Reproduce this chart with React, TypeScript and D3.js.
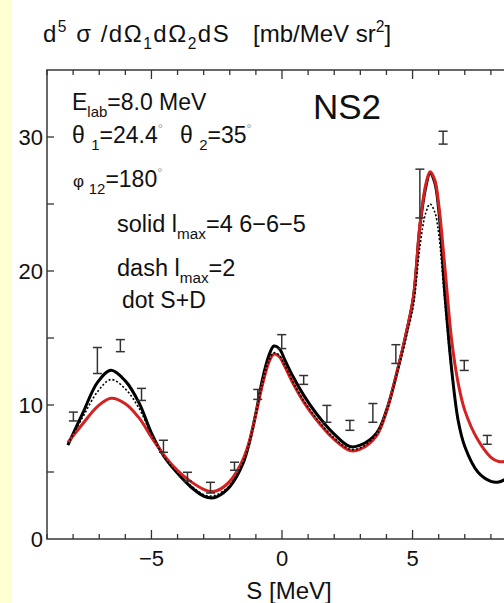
import { useEffect, useRef } from "react";
import * as d3 from "d3";

// S grid shared by the three calculated curves [MeV]
const curveS = [
  -8.2, -7.63, -7.06, -6.55, -6.0, -5.46, -5.0, -4.5, -4.0, -3.5,
  -3.0, -2.77, -2.5, -2.0, -1.5, -1.25, -1.0, -0.75, -0.5, -0.31,
  -0.1, 0.1, 0.4, 0.84, 1.32, 1.96, 2.6, 3.0, 3.62, 4.0,
  4.45, 4.75, 5.03, 5.28, 5.5, 5.67, 5.85, 6.0, 6.25, 6.5,
  6.75, 7.0, 7.5, 8.0, 8.3, 8.6, 9.0,
];

// solid, lmax=4 6-6-5 (black)
const solidCurve = [
  7.0, 9.4, 11.7, 12.6, 11.8, 10.1, 7.9, 6.1, 4.9, 3.9,
  3.2, 3.07, 3.15, 3.9, 5.6, 7.2, 9.4, 11.9, 13.7, 14.4,
  14.2, 13.4, 12.2, 10.7, 9.35, 7.9, 6.9, 7.0, 7.9, 9.6,
  12.8, 15.3, 18.0, 23.3, 26.2, 27.3, 26.6, 24.6, 18.0, 12.6,
  8.8, 6.9, 5.0, 4.3, 4.25, 4.5, 5.0,
];

// dash, lmax=2 (red)
const dashCurve = [
  7.2, 8.6, 9.9, 10.5, 10.1, 9.0, 7.6, 6.2, 5.1, 4.3,
  3.7, 3.55, 3.6, 4.3, 5.9, 7.3, 9.3, 11.5, 13.2, 13.8,
  13.6, 12.9, 11.7, 10.2, 8.9, 7.5, 6.6, 6.7, 7.7, 9.5,
  12.8, 15.3, 18.0, 23.4, 26.4, 27.4, 26.8, 25.0, 20.0, 14.8,
  11.6, 9.6, 7.4, 6.1, 5.78, 5.8, 6.0,
];

// dot, S+D (black dotted)
const dotCurve = [
  7.1, 9.1, 11.0, 11.9, 11.2, 9.7, 7.8, 6.1, 4.9, 4.0,
  3.3, 3.2, 3.3, 4.0, 5.7, 7.2, 9.3, 11.6, 13.3, 13.9,
  13.7, 13.0, 11.8, 10.3, 9.0, 7.6, 6.7, 6.8, 7.8, 9.5,
  12.7, 15.0, 17.4, 21.8, 24.3, 25.0, 24.4, 22.8, 17.4, 12.4,
  8.8, 6.9, 5.0, 4.3, 4.25, 4.5, 5.0,
];

// measured points with errors
const dataS = [
  -7.99, -7.07, -6.19, -5.38, -4.54, -3.62, -2.74, -1.82, -0.93, -0.01,
  0.83, 1.72, 2.6, 3.48, 4.36, 5.28, 6.17, 6.98, 7.86,
];
const dataSigma = [
  9.14, 13.32, 14.43, 10.79, 6.92, 4.65, 3.83, 5.43, 10.79, 14.73,
  11.87, 9.34, 8.48, 9.41, 13.8, 25.78, 29.95, 12.95, 7.4,
];
const dataErr = [
  0.33, 0.97, 0.45, 0.45, 0.45, 0.33, 0.4, 0.3, 0.37, 0.52,
  0.33, 0.63, 0.37, 0.7, 0.7, 1.82, 0.48, 0.37, 0.33,
];

const xLabels = [-5, 0, 5];
const yLabels = [0, 10, 20, 30];

const W = 504;
const H = 603;
const FONT = "'Liberation Sans', Arial, Helvetica, sans-serif";

type Part = { t: string; sub?: boolean; sup?: boolean; size?: number; fill?: string };

export default function App() {
  const svgRef = useRef<SVGSVGElement | null>(null);

  useEffect(() => {
    if (!svgRef.current) return;
    const svg = d3.select(svgRef.current);
    svg.selectAll("*").remove();

    const left = 47;
    const right = 517;
    const top = 70;
    const bottom = 539;

    const x = d3.scaleLinear().domain([-9, 9]).range([left, right]);
    const y = d3.scaleLinear().domain([0, 35]).range([bottom, top]);

    // page background
    svg.append("rect").attr("width", W).attr("height", H).attr("fill", "#fff");
    svg.append("rect").attr("width", 12).attr("height", H).attr("fill", "#ffffd2");

    svg
      .append("clipPath")
      .attr("id", "plot-clip")
      .append("rect")
      .attr("x", left)
      .attr("y", top)
      .attr("width", right - left)
      .attr("height", bottom - top);

    // rich text helper (sub/superscripts)
    const rich = (px: number, py: number, size: number, parts: Part[]) => {
      const t = svg
        .append("text")
        .attr("x", px)
        .attr("y", py)
        .attr("font-family", FONT)
        .attr("font-size", size)
        .attr("fill", "#111")
        .attr("xml:space", "preserve");
      let off = 0;
      parts.forEach((p) => {
        const target = p.sub ? 0.3 * size : p.sup ? -0.42 * size : 0;
        const fs = p.size ?? (p.sub || p.sup ? size * 0.65 : size);
        t.append("tspan")
          .attr("dy", target - off)
          .attr("font-size", fs)
          .attr("fill", p.fill ?? "#111")
          .text(p.t);
        off = target;
      });
      return t;
    };

    // curves
    const plot = svg.append("g").attr("clip-path", "url(#plot-clip)");
    const line = (vals: number[]) =>
      d3
        .line<number>()
        .x((_, i) => x(curveS[i]))
        .y((d) => y(d))
        .curve(d3.curveCatmullRom.alpha(0.5))(vals);

    plot
      .append("path")
      .attr("d", line(solidCurve))
      .attr("fill", "none")
      .attr("stroke", "#000")
      .attr("stroke-width", 3);

    plot
      .append("path")
      .attr("d", line(dashCurve))
      .attr("fill", "none")
      .attr("stroke", "#d42222")
      .attr("stroke-width", 3);

    plot
      .append("path")
      .attr("d", line(dotCurve))
      .attr("fill", "none")
      .attr("stroke", "#000")
      .attr("stroke-width", 1.6)
      .attr("stroke-dasharray", "2,2");

    // error bars
    const bars = plot
      .selectAll("g.err")
      .data(dataS.map((s, i) => ({ s, v: dataSigma[i], e: dataErr[i] })))
      .enter()
      .append("g")
      .attr("stroke", "#333")
      .attr("stroke-width", 1.5);
    bars
      .append("line")
      .attr("x1", (d) => x(d.s))
      .attr("x2", (d) => x(d.s))
      .attr("y1", (d) => y(d.v - d.e))
      .attr("y2", (d) => y(d.v + d.e));
    [-1, 1].forEach((sgn) => {
      bars
        .append("line")
        .attr("x1", (d) => x(d.s) - 4.5)
        .attr("x2", (d) => x(d.s) + 4.5)
        .attr("y1", (d) => y(d.v + sgn * d.e))
        .attr("y2", (d) => y(d.v + sgn * d.e));
    });

    // frame
    svg
      .append("rect")
      .attr("x", left)
      .attr("y", top)
      .attr("width", right - left)
      .attr("height", bottom - top)
      .attr("fill", "none")
      .attr("stroke", "#444")
      .attr("stroke-width", 1.6);

    // x ticks, top and bottom, pointing inward
    const ticks = svg.append("g").attr("stroke", "#333").attr("stroke-width", 1.3);
    x.ticks(18).forEach((t) => {
      const len = t % 5 === 0 ? 9 : 5;
      ticks
        .append("line")
        .attr("x1", x(t))
        .attr("x2", x(t))
        .attr("y1", bottom)
        .attr("y2", bottom - len);
      ticks
        .append("line")
        .attr("x1", x(t))
        .attr("x2", x(t))
        .attr("y1", top)
        .attr("y2", top + len);
    });
    y.ticks(7).forEach((t) => {
      if (t === 0 || t === 35) return;
      ticks
        .append("line")
        .attr("x1", left)
        .attr("x2", left + 7)
        .attr("y1", y(t))
        .attr("y2", y(t));
    });

    // tick labels
    svg
      .selectAll("text.xl")
      .data(xLabels)
      .enter()
      .append("text")
      .attr("x", (d) => x(d))
      .attr("y", 566)
      .attr("text-anchor", "middle")
      .attr("font-family", FONT)
      .attr("font-size", 22)
      .attr("fill", "#111")
      .text((d) => (d < 0 ? "\u2212" + Math.abs(d) : String(d)));

    svg
      .selectAll("text.yl")
      .data(yLabels)
      .enter()
      .append("text")
      .attr("x", 43)
      .attr("y", (d) => y(d) + 8)
      .attr("text-anchor", "end")
      .attr("font-family", FONT)
      .attr("font-size", 22)
      .attr("fill", "#111")
      .text((d) => String(d));

    // axis titles
    svg
      .append("text")
      .attr("x", 289)
      .attr("y", 599)
      .attr("text-anchor", "middle")
      .attr("font-family", FONT)
      .attr("font-size", 24)
      .attr("fill", "#111")
      .text("S [MeV]");

    rich(43, 42, 24, [
      { t: "d" },
      { t: "5", sup: true },
      { t: " σ /dΩ" },
      { t: "1", sub: true },
      { t: "dΩ" },
      { t: "2", sub: true },
      { t: "dS" },
    ]).attr("letter-spacing", 1.5);
    rich(253, 42, 24, [{ t: "[mb/MeV sr" }, { t: "2", sup: true }, { t: "]" }]);

    // annotations
    rich(72, 110, 23, [{ t: "E" }, { t: "lab", sub: true }, { t: "=8.0 MeV" }]);
    svg
      .append("text")
      .attr("x", 313)
      .attr("y", 119)
      .attr("font-family", FONT)
      .attr("font-size", 35)
      .attr("fill", "#111")
      .text("NS2");

    rich(72, 143, 23, [
      { t: "θ " },
      { t: "1", sub: true },
      { t: "=24.4" },
      { t: "°", sup: true, fill: "#999", size: 13 },
    ]);
    rich(180, 143, 23, [
      { t: "θ " },
      { t: "2", sub: true },
      { t: "=35" },
      { t: "°", sup: true, fill: "#999", size: 13 },
    ]);
    rich(73, 187, 23, [
      { t: "φ ", size: 17 },
      { t: "12", sub: true },
      { t: "=180" },
      { t: "°", sup: true, fill: "#999", size: 13 },
    ]);
    rich(117, 232, 23.5, [{ t: "solid l" }, { t: "max", sub: true }, { t: "=4 6\u22126\u22125" }]);
    rich(117, 276, 23.5, [{ t: "dash l" }, { t: "max", sub: true }, { t: "=2" }]);
    rich(122, 308, 23, [{ t: "dot S+D" }]);
  }, []);

  return (
    <svg
      ref={svgRef}
      width={W}
      height={H}
      style={{ position: "absolute", left: 0, top: 0, display: "block" }}
    />
  );
}
